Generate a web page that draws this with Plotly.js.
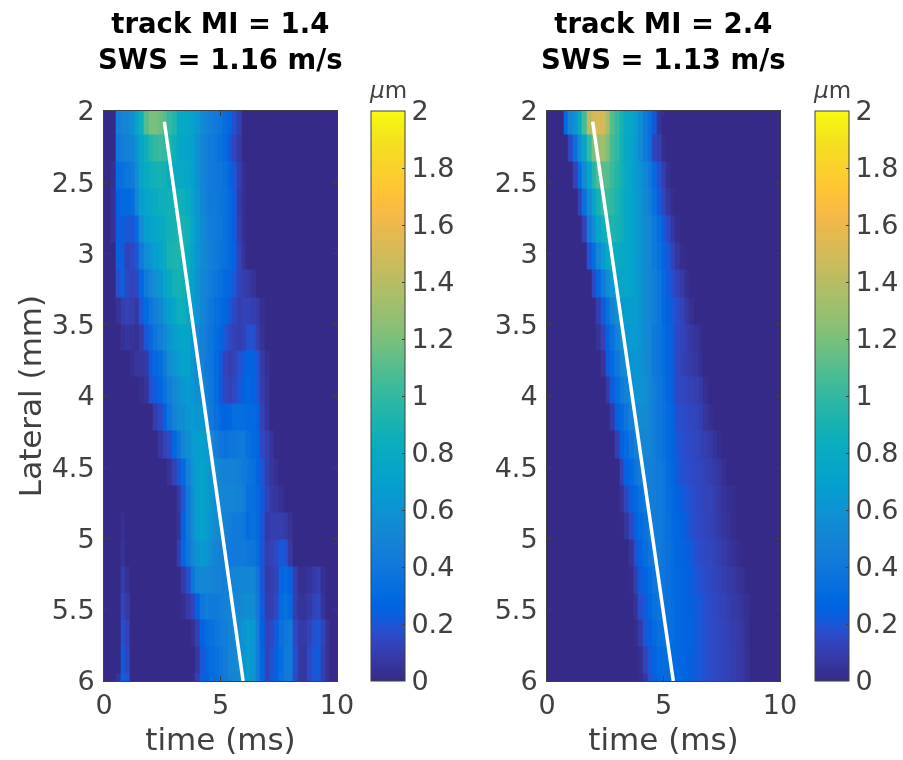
<!DOCTYPE html>
<html>
<head>
<meta charset="utf-8">
<script src="https://cdn.plot.ly/plotly-3.0.1.min.js"></script>
<style>html,body{margin:0;padding:0;background:#fff}#chart{filter:blur(0.6px)}</style>
</head>
<body>
<div id="chart" style="width:903px;height:760px"></div>
<script>
const timeMs = [0,.2,.4,.6,.8,1,1.2,1.4,1.6,1.8,2,2.2,2.4,2.6,2.8,3,3.2,3.4,3.6,3.8,4,4.2,4.4,4.6,4.8,5,5.2,5.4,5.6,5.8,6,6.2,6.4,6.6,6.8,7,7.2,7.4,7.6,7.8,8,8.2,8.4,8.6,8.8,9,9.2,9.4,9.6,9.8,10];
const lateralMm = [2.07,2.26,2.45,2.64,2.83,3.02,3.21,3.40,3.59,3.77,3.96,4.15,4.34,4.53,4.72,4.91,5.10,5.29,5.48,5.66,5.85,6.04];
const tickY = [2,2.5,3,3.5,4,4.5,5,5.5,6];
const tickX = [0,5,10];
const tickBar = [0,.2,.4,.6,.8,1,1.2,1.4,1.6,1.8,2];
const titleLeft = 'track MI = 1.4<br>SWS = 1.16 m/s';
const titleRight = 'track MI = 2.4<br>SWS = 1.13 m/s';
const unitLabel = '<i>μ</i>m';
const trackLeftT = [2.59,5.97];
const trackRightT = [1.96,5.42];
const trackLat = [2.075,6];

const displacementLeft = [
[0,0,0,.45,.5,.52,.58,.72,.85,1.1,1.2,1.2,1.15,1.1,1,.95,.8,.78,.75,.72,.65,.55,.5,.45,.42,.38,.32,.27,.18,.1],
[0,0,0,.4,.45,.48,.5,.62,.75,.85,.95,1,1.02,1,.95,.85,.78,.75,.72,.7,.6,.5,.45,.42,.38,.35,.3,.22,.13,.07],
[0,0,.03,.32,.35,.38,.42,.55,.72,.8,.85,.88,.9,.88,.82,.8,.78,.78,.75,.7,.6,.5,.45,.42,.4,.38,.35,.28,.2,.1,.03],
[0,0,.05,.25,.28,.28,.32,.5,.68,.72,.78,.82,.85,.85,.88,.88,.88,.85,.8,.72,.62,.52,.45,.42,.42,.38,.35,.3,.22,.08,.03],
[0,0,.05,.22,.24,.2,.2,.3,.55,.68,.72,.75,.78,.82,.88,.9,.92,.9,.85,.75,.65,.55,.48,.44,.42,.4,.35,.3,.22,.1,.03],
[0,0,0,.24,.22,.12,.15,.2,.42,.55,.62,.7,.72,.8,.9,.92,.92,.9,.82,.72,.62,.55,.5,.45,.42,.38,.35,.3,.24,.12,.05],
[0,0,0,.18,.24,.15,.13,.15,.28,.42,.5,.58,.62,.72,.8,.88,.9,.88,.8,.7,.6,.52,.48,.42,.38,.35,.3,.28,.2,.12,.1,.08,.04],
[0,0,0,.04,.1,.12,.1,.06,.2,.3,.38,.45,.52,.62,.7,.78,.85,.85,.78,.68,.6,.52,.45,.4,.35,.3,.27,.22,.15,.1,.12,.12,.1,.08,.03],
[0,0,0,0,.04,.06,.05,.03,.08,.2,.3,.38,.45,.52,.6,.68,.72,.75,.72,.62,.55,.48,.42,.38,.32,.27,.2,.15,.12,.1,.12,.18,.18,.1,.04],
[0,0,0,0,0,0,.03,.06,.06,.08,.22,.28,.32,.42,.55,.62,.68,.72,.72,.62,.55,.48,.42,.38,.3,.22,.13,.1,.12,.18,.22,.26,.25,.2,.08,.03],
[0,0,0,0,0,0,0,0,.02,.05,.18,.22,.28,.36,.45,.52,.58,.62,.65,.62,.58,.52,.45,.4,.32,.22,.15,.12,.15,.2,.25,.28,.25,.2,.1,.04],
[0,0,0,0,0,0,0,0,0,0,0,.1,.15,.25,.38,.48,.55,.58,.62,.65,.62,.62,.52,.42,.35,.28,.26,.28,.32,.33,.32,.3,.3,.25,.12,.05],
[0,0,0,0,0,0,0,0,0,0,0,0,.06,.12,.16,.27,.38,.5,.58,.65,.68,.7,.65,.55,.45,.38,.36,.38,.4,.42,.42,.35,.3,.27,.15,.1,.05],
[0,0,0,0,0,0,0,0,0,0,0,0,0,0,.04,.12,.2,.3,.48,.6,.68,.72,.68,.6,.55,.5,.48,.48,.48,.46,.42,.38,.35,.27,.2,.1,.06,.03],
[0,0,0,0,0,0,0,0,0,0,0,0,0,0,0,0,.07,.2,.42,.58,.68,.72,.68,.62,.58,.52,.5,.5,.5,.48,.45,.35,.33,.3,.22,.12,.08,.06,.03],
[0,0,0,0,.03,0,0,0,0,0,0,0,0,0,0,0,.05,.25,.42,.55,.68,.72,.68,.6,.55,.5,.48,.46,.42,.42,.4,.32,.35,.3,.2,.07,.1,.1,.1,.08,.04],
[0,0,0,0,.05,0,0,0,0,0,0,0,0,0,0,0,.1,.28,.4,.52,.6,.65,.62,.55,.5,.47,.45,.42,.42,.42,.42,.4,.38,.32,.2,.1,.12,.15,.22,.18,.07],
[0,0,0,0,.1,.04,0,0,0,0,0,0,0,0,0,0,0,.08,.18,.38,.5,.52,.52,.5,.48,.47,.45,.48,.5,.5,.5,.52,.5,.38,.2,.08,.1,.12,.28,.3,.25,.1,.03,.03,.05,.08,.1,.03],
[0,0,0,0,.14,.08,0,0,0,0,0,0,0,0,0,0,0,.03,.08,.13,.25,.38,.45,.42,.42,.44,.47,.5,.52,.52,.55,.58,.55,.42,.22,.1,.1,.15,.3,.35,.3,.1,.05,.05,.08,.12,.15,.05],
[0,0,0,0,.18,.12,0,0,0,0,0,0,0,0,0,0,0,0,0,.03,.1,.25,.32,.35,.38,.42,.45,.5,.52,.55,.6,.66,.62,.45,.25,.12,.15,.22,.35,.4,.42,.15,.08,.08,.12,.18,.2,.12,.04],
[0,0,0,0,.22,.15,0,0,0,0,0,0,0,0,0,0,0,0,0,0,.06,.2,.28,.32,.35,.4,.44,.5,.52,.55,.6,.66,.62,.45,.28,.12,.18,.25,.32,.42,.42,.18,.07,.06,.15,.2,.22,.1,.04],
[0,0,0,.05,.25,.2,0,0,0,0,0,0,0,0,0,0,0,0,0,0,.1,.24,.25,.3,.32,.38,.42,.48,.5,.52,.58,.65,.6,.45,.28,.13,.2,.25,.35,.42,.42,.15,.06,.06,.15,.2,.2,.1,.04]
];

const displacementRight = [
[0,0,0,0,.3,.5,.62,.8,1.05,1.4,1.5,1.52,1.5,1.35,1.1,1,.9,.78,.75,.68,.58,.42,.35,.22,.05],
[0,0,0,0,0,.15,.35,.55,.72,1,1.2,1.3,1.32,1.22,1.05,.98,.88,.78,.72,.65,.55,.42,.35,.14,.1,.02],
[0,0,0,0,0,0,.12,.32,.55,.72,.95,1.08,1.12,1.1,1.02,.95,.88,.8,.72,.65,.6,.5,.42,.3,.18,.1,.03],
[0,0,0,0,0,0,0,.12,.35,.55,.72,.88,1.02,1.02,.98,.92,.85,.78,.72,.68,.62,.52,.45,.35,.22,.14,.06,.02],
[0,0,0,0,0,0,0,0,.12,.42,.55,.72,.85,.92,.92,.9,.85,.78,.72,.68,.62,.55,.5,.42,.32,.22,.15,.06,.02],
[0,0,0,0,0,0,0,0,0,.2,.32,.5,.65,.78,.82,.82,.78,.75,.72,.68,.62,.55,.5,.42,.35,.27,.2,.12,.06,.02],
[0,0,0,0,0,0,0,0,0,0,.15,.28,.42,.55,.65,.72,.75,.75,.72,.68,.62,.55,.5,.45,.38,.3,.22,.17,.12,.08,.03],
[0,0,0,0,0,0,0,0,0,0,0,.1,.22,.35,.48,.58,.62,.68,.68,.68,.62,.55,.5,.45,.38,.3,.25,.2,.17,.12,.07,.03],
[0,0,0,0,0,0,0,0,0,0,0,.04,.12,.25,.35,.48,.58,.62,.65,.65,.62,.55,.5,.42,.38,.32,.27,.22,.15,.13,.1,.07,.05,.02],
[0,0,0,0,0,0,0,0,0,0,0,0,.05,.22,.3,.4,.5,.55,.6,.62,.6,.55,.5,.42,.38,.32,.27,.22,.15,.12,.1,.08,.06,.03],
[0,0,0,0,0,0,0,0,0,0,0,0,0,.08,.22,.32,.42,.48,.55,.6,.6,.58,.52,.45,.4,.35,.28,.22,.15,.14,.13,.12,.1,.07,.03],
[0,0,0,0,0,0,0,0,0,0,0,0,0,0,.08,.25,.3,.38,.48,.52,.55,.55,.5,.45,.4,.36,.3,.26,.18,.17,.15,.14,.13,.1,.06,.03],
[0,0,0,0,0,0,0,0,0,0,0,0,0,0,0,.1,.25,.3,.38,.46,.5,.52,.5,.45,.4,.36,.3,.26,.2,.18,.16,.15,.14,.12,.1,.08,.05,.02],
[0,0,0,0,0,0,0,0,0,0,0,0,0,0,0,0,.12,.25,.3,.38,.44,.48,.48,.45,.42,.38,.32,.27,.22,.18,.17,.16,.15,.13,.12,.1,.08,.06,.03],
[0,0,0,0,0,0,0,0,0,0,0,0,0,0,0,0,.04,.14,.24,.28,.36,.42,.45,.45,.42,.38,.33,.29,.26,.22,.2,.18,.16,.14,.12,.12,.1,.07,.05,.03,.02],
[0,0,0,0,0,0,0,0,0,0,0,0,0,0,0,0,0,.06,.15,.25,.3,.36,.42,.44,.42,.38,.35,.3,.28,.25,.22,.18,.16,.15,.14,.12,.1,.08,.06,.04,.02],
[0,0,0,0,0,0,0,0,0,0,0,0,0,0,0,0,0,0,.05,.18,.26,.32,.38,.42,.42,.38,.36,.32,.28,.26,.24,.22,.18,.16,.15,.14,.12,.1,.08,.06,.04,.02],
[0,0,0,0,0,0,0,0,0,0,0,0,0,0,0,0,0,0,.02,.1,.22,.26,.32,.38,.4,.38,.35,.32,.3,.27,.25,.23,.2,.18,.16,.15,.14,.12,.1,.08,.07,.05,.03],
[0,0,0,0,0,0,0,0,0,0,0,0,0,0,0,0,0,0,0,.04,.17,.22,.28,.34,.37,.37,.35,.33,.3,.28,.26,.24,.22,.2,.18,.16,.15,.13,.12,.1,.08,.07,.05,.03],
[0,0,0,0,0,0,0,0,0,0,0,0,0,0,0,0,0,0,0,.02,.08,.2,.24,.3,.35,.36,.35,.33,.3,.28,.26,.25,.22,.2,.18,.16,.15,.14,.13,.11,.09,.08,.06,.03],
[0,0,0,0,0,0,0,0,0,0,0,0,0,0,0,0,0,0,0,0,.03,.12,.2,.26,.3,.32,.32,.31,.3,.28,.26,.24,.22,.2,.18,.16,.15,.14,.13,.12,.1,.08,.07,.03],
[0,0,0,0,0,0,0,0,0,0,0,0,0,0,0,0,0,0,0,0,.02,.06,.18,.24,.28,.3,.3,.3,.28,.28,.26,.24,.22,.2,.18,.16,.15,.14,.13,.12,.1,.08,.07,.03]
];

const parula = [[.2081,.1663,.5292],[.2116,.1898,.5777],[.2123,.2138,.6270],[.2081,.2386,.6771],[.1959,.2645,.7279],[.1707,.2919,.7792],[.1253,.3242,.8303],[.0591,.3598,.8683],[.0117,.3875,.8820],[.0060,.4086,.8828],[.0165,.4266,.8786],[.0329,.4430,.8720],[.0498,.4586,.8641],[.0629,.4737,.8554],[.0723,.4887,.8467],[.0779,.5040,.8384],[.0793,.5200,.8312],[.0749,.5375,.8263],[.0641,.5570,.8240],[.0488,.5772,.8228],[.0343,.5966,.8199],[.0265,.6137,.8135],[.0239,.6287,.8038],[.0231,.6418,.7913],[.0228,.6535,.7768],[.0267,.6642,.7607],[.0384,.6743,.7436],[.0590,.6838,.7254],[.0843,.6928,.7062],[.1133,.7015,.6859],[.1453,.7098,.6646],[.1801,.7177,.6424],[.2178,.7250,.6193],[.2586,.7317,.5954],[.3022,.7376,.5712],[.3482,.7424,.5473],[.3953,.7459,.5244],[.4420,.7481,.5033],[.4871,.7491,.4840],[.5300,.7491,.4661],[.5709,.7485,.4494],[.6099,.7473,.4337],[.6473,.7456,.4188],[.6834,.7435,.4044],[.7184,.7411,.3905],[.7525,.7384,.3768],[.7858,.7356,.3633],[.8185,.7327,.3498],[.8507,.7299,.3360],[.8824,.7274,.3217],[.9139,.7258,.3063],[.9450,.7261,.2886],[.9739,.7314,.2666],[.9938,.7455,.2403],[.9990,.7653,.2164],[.9955,.7861,.1967],[.9880,.8066,.1794],[.9789,.8271,.1633],[.9697,.8481,.1475],[.9626,.8705,.1309],[.9589,.8949,.1132],[.9598,.9218,.0948],[.9661,.9514,.0755],[.9763,.9831,.0538]];
const colorscale = parula.map((c,i)=>[i/(parula.length-1),`rgb(${c.map(v=>Math.round(v*255)).join(',')})`]);

const W = 903, H = 760;
const FONT = '"DejaVu Sans", sans-serif';
const INK = '#404040';
const pad = rows => rows.map(r => timeMs.map((_,i)=> i < r.length ? r[i] : 0));

function heat(z, xa, ya, barX){
  return {type:'heatmap', x:timeMs, y:lateralMm, z:pad(z), xaxis:xa, yaxis:ya, zmin:0, zmax:2, zsmooth:false,
    colorscale, hoverinfo:'skip',
    colorbar:{x:barX/W, xanchor:'left', xpad:0, ypad:0, y:1-681/H, yanchor:'bottom', len:570/H, lenmode:'fraction',
      thickness:34, thicknessmode:'pixels', outlinecolor:INK, outlinewidth:1, tickvals:tickBar, ticks:'inside', ticklen:3,
      tickcolor:INK, tickfont:{family:FONT,size:27,color:INK}}};
}
function line(t, xa, ya){
  return {type:'scatter', mode:'lines', x:t, y:trackLat, xaxis:xa, yaxis:ya, line:{color:'#fff',width:3.5}, hoverinfo:'skip', showlegend:false};
}
function xAxis(l, r, anchor){
  return {domain:[l/W,r/W], range:[0,10], anchor, tickvals:tickX, ticks:'inside', ticklen:5, tickcolor:INK, showline:true, linecolor:INK, linewidth:1, mirror:'ticks',
    showgrid:false, zeroline:false, tickfont:{family:FONT,size:27,color:INK}, title:{text:'time (ms)', font:{family:FONT,size:31,color:INK}, standoff:8}};
}
function yAxis(anchor, title){
  return {domain:[1-681/H,1-111/H], range:[6,2], anchor, tickvals:tickY, ticks:'inside', ticklen:5, tickcolor:INK, showline:true, linecolor:INK, linewidth:1, mirror:'ticks',
    showgrid:false, zeroline:false, ticklabelstandoff:3, tickfont:{family:FONT,size:27,color:INK}, title: title ? {text:title, font:{family:FONT,size:31,color:INK}, standoff:0} : undefined};
}
const titleAnn = (t,x)=>({text:'<b>'+t+'</b>', x:x/W, y:1-41/H, xref:'paper', yref:'paper', xanchor:'center', yanchor:'middle', showarrow:false, align:'center', font:{family:FONT,size:27.5,color:'#000'}});
const unitAnn = x =>({text:unitLabel, x:x/W, y:1-90/H, xref:'paper', yref:'paper', xanchor:'center', yanchor:'middle', showarrow:false, font:{family:FONT,size:23,color:INK}});

Plotly.newPlot('chart', [
  heat(displacementLeft,'x','y',371), line(trackLeftT,'x','y'),
  heat(displacementRight,'x2','y2',815), line(trackRightT,'x2','y2')
], {
  width:W, height:H, margin:{l:0,r:0,t:0,b:0,autoexpand:false}, paper_bgcolor:'#fff', plot_bgcolor:'#fff', showlegend:false,
  xaxis:xAxis(104,337,'y'), yaxis:yAxis('x','Lateral (mm)'),
  xaxis2:xAxis(547,780,'y2'), yaxis2:yAxis('x2'),
  annotations:[titleAnn(titleLeft,220.5), titleAnn(titleRight,663.5), unitAnn(388), unitAnn(832)]
}, {displayModeBar:false, staticPlot:true});
</script>
</body>
</html>
